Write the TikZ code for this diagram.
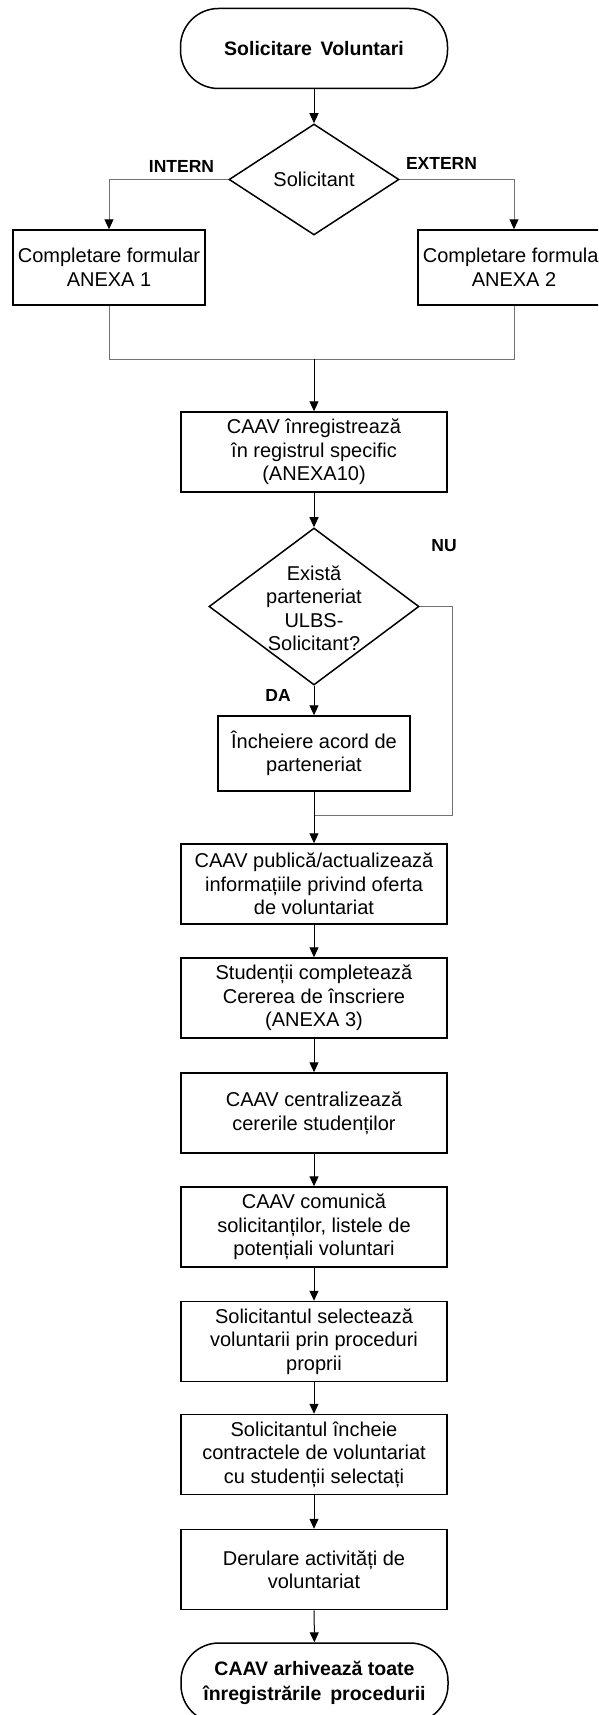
\documentclass[tikz,border=0pt]{standalone}
\usepackage{fontspec}
\setmainfont{Liberation Sans}
\usetikzlibrary{shapes.geometric,arrows.meta}
\begin{document}
\begin{tikzpicture}[x=1pt,y=-1pt,
  box/.style={draw=black,line width=1.5pt,minimum width=266pt,minimum height=80pt,inner sep=0pt,align=center,font=\fontsize{20}{23.5}\selectfont},
  sidebox/.style={box,minimum width=192pt,minimum height=75pt},
  term/.style={box,rounded corners=38pt,minimum width=267pt,minimum height=80pt,font=\fontsize{19.5}{25}\selectfont\bfseries},
  dec/.style={draw=black,line width=1.5pt,diamond,inner sep=0pt},
  dtext/.style={align=center,inner sep=0pt,font=\fontsize{20}{23.5}\selectfont},
  lbl/.style={font=\fontsize{17.5}{20}\selectfont\bfseries,inner sep=0pt},
  arr/.style={line width=1pt,-{Triangle[length=10pt,width=9pt]}},
  gline/.style={draw=black!55,line width=1pt},
  garr/.style={gline,-{Triangle[length=10pt,width=9pt,color=black]}},
]
\clip (0,0) rectangle (598,1715);
\fill[white] (0,0) rectangle (598,1715);

% nodes
\node[term] (start) at (314,48.5) {Solicitare\hspace{0.45em}Voluntari};
\node[dec,minimum width=170pt,minimum height=111pt] (d1) at (314,179.5) {};
\node[dtext] (d1t) at (314,179.5) {Solicitant};
\node[sidebox] (left) at (109,267.5) {Completare formular\\ANEXA 1};
\node[sidebox] (right) at (514,267.5) {Completare formular\\ANEXA 2};
\node[box] (reg) at (314,452) {CAAV înregistrează\\în registrul specific\\(ANEXA10)};
\node[dec,minimum width=210pt,minimum height=157pt] (d2) at (314,606.5) {};
\node[dtext] (d2t) at (314,608) {Există\\parteneriat\\ULBS-\\Solicitant?};
\node[sidebox,minimum height=75pt] (acord) at (314,753.5) {Încheiere acord de\\parteneriat};
\node[box] (pub) at (314,884) {CAAV publică/actualizează\\informațiile privind oferta\\de voluntariat};
\node[box] (stud) at (314,998) {Studenții completează\\Cererea de înscriere\\(ANEXA 3)};
\node[box] (centr) at (314,1113) {CAAV centralizează\\cererile studenților};
\node[box] (comun) at (314,1227) {CAAV comunică\\solicitanților, listele de\\potențiali voluntari};
\node[box] (sel) at (314,1341.5) {Solicitantul selectează\\voluntarii prin proceduri\\proprii};
\node[box] (inch) at (314,1454.5) {Solicitantul încheie\\contractele de voluntariat\\cu studenții selectați};
\node[box] (der) at (314,1569.5) {Derulare activități de\\voluntariat};
\node[term] (end) at (314.5,1683) {CAAV arhivează toate\\înregistrările\hspace{0.45em}procedurii};

% labels
\node[lbl] (lin) at (181.5,166) {INTERN};
\node[lbl] (lex) at (441.5,163) {EXTERN};
\node[lbl] (lnu) at (444,546) {NU};
\node[lbl] (lda) at (278,695) {DA};

% coordinates
\coordinate (m1) at (314,359);
\coordinate (m2) at (314,815.5);
\coordinate (nu) at (452,606.5);

% connectors
\draw[arr] (start) -- (d1);
\draw[garr] (d1.west) -| (left.north);
\draw[garr] (d1.east) -| (right.north);
\draw[gline] (left.south) |- (m1);
\draw[gline] (right.south) |- (m1);
\draw[arr] (m1) -- (reg.north);
\draw[arr] (reg) -- (d2);
\draw[arr] (d2.south) -- (acord.north);
\draw[gline] (d2.east) -- (nu) |- (m2);
\draw[arr] (acord.south) -- (pub.north);
\draw[arr] (pub) -- (stud);
\draw[arr] (stud) -- (centr);
\draw[arr] (centr) -- (comun);
\draw[arr] (comun) -- (sel);
\draw[arr] (sel) -- (inch);
\draw[arr] (inch) -- (der);
\draw[arr] (der) -- (end);
\end{tikzpicture}
\end{document}
